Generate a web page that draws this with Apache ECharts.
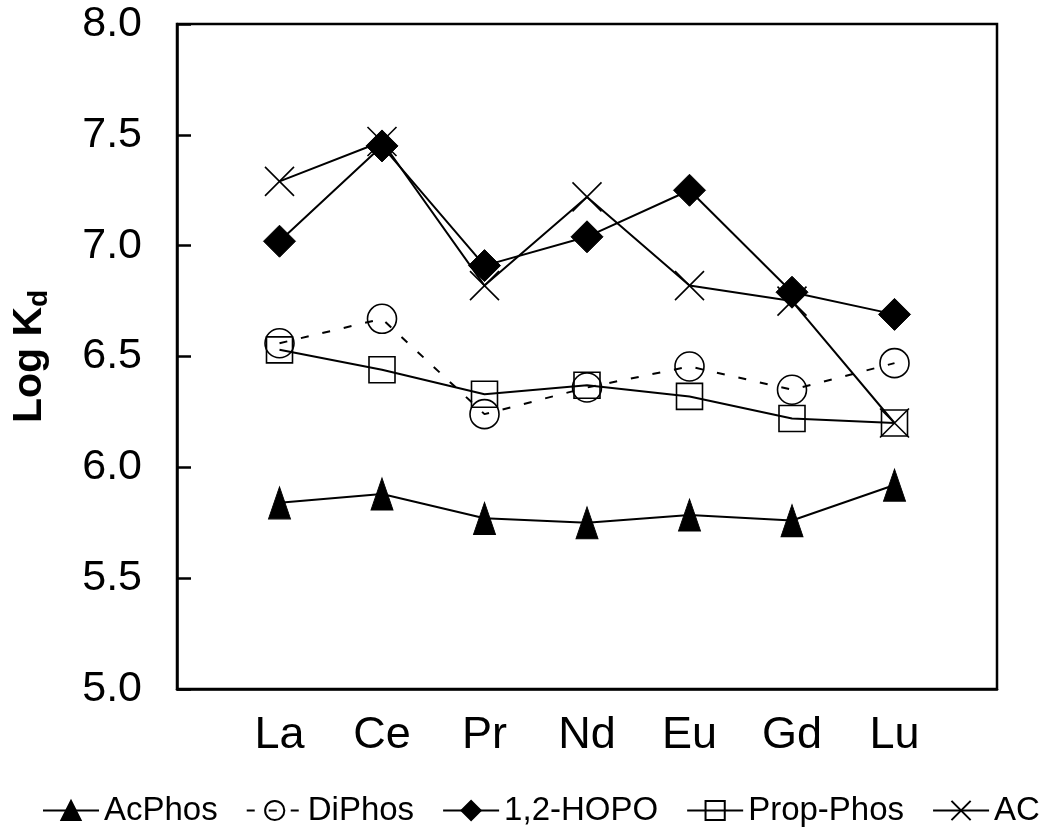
<!DOCTYPE html>
<html>
<head>
<meta charset="utf-8">
<script src="https://cdn.jsdelivr.net/npm/echarts@6/dist/echarts.min.js"></script>
<style>
  html, body { margin: 0; padding: 0; background: #fff; }
  #chart { width: 1050px; height: 834px; }
</style>
</head>
<body>
<div id="chart"></div>
<script>
// lanthanide elements on the x axis
const elements = ['La', 'Ce', 'Pr', 'Nd', 'Eu', 'Gd', 'Lu'];

// Log Kd values per ligand
const acPhos = [5.84, 5.88, 5.77, 5.75, 5.785, 5.76, 5.92];
const diPhos = [6.56, 6.67, 6.24, 6.36, 6.455, 6.35, 6.47];
const hopo = [7.02, 7.45, 6.91, 7.04, 7.25, 6.79, 6.69];
const propPhos = [6.53, 6.44, 6.33, 6.37, 6.32, 6.22, 6.20];
const ac = [7.29, 7.47, 6.82, 7.22, 6.82, 6.75, 6.20];

const FONT = "'Liberation Sans', Arial, sans-serif";

// empty slot at each end so the points sit one step in from the frame
const pad = arr => [null, ...arr, null];

const chart = echarts.init(document.getElementById('chart'));

const baseSeries = (name, data, symbol, size, filled, dashed) => ({
  name,
  type: 'line',
  data: pad(data),
  symbol,
  symbolSize: size,
  showAllSymbol: true,
  color: '#000',
  lineStyle: { color: '#000', width: 2, type: dashed ? [8, 14] : 'solid' },
  itemStyle: filled
    ? { color: '#000', borderColor: '#000', borderWidth: 1 }
    : { color: 'rgba(255,255,255,0)', borderColor: '#000', borderWidth: 1.6 },
  emphasis: { disabled: true }
});

chart.setOption({
  animation: false,
  backgroundColor: '#fff',
  grid: {
    left: 177,
    right: 53,
    top: 24,
    bottom: 145,
    show: true,
    borderColor: '#000',
    borderWidth: 2.5
  },
  legend: {
    left: 37,
    top: 789,
    itemWidth: 56,
    itemHeight: 24,
    itemGap: 28,
    textStyle: { fontFamily: FONT, fontSize: 33, color: '#000' },
    data: ['AcPhos', 'DiPhos', '1,2-HOPO', 'Prop-Phos', 'AC']
  },
  xAxis: {
    type: 'category',
    data: ['', ...elements, ''],
    boundaryGap: false,
    axisLine: { lineStyle: { color: '#000', width: 2.5 } },
    axisTick: { show: false },
    axisLabel: { fontFamily: FONT, fontSize: 45, color: '#000', margin: 24 },
    splitLine: { show: false }
  },
  yAxis: {
    type: 'value',
    min: 5,
    max: 8,
    interval: 0.5,
    name: '{a|Log K}{b|d}',
    nameLocation: 'middle',
    nameRotate: 90,
    nameGap: 124,
    nameTextStyle: {
      rich: {
        a: { fontFamily: FONT, fontSize: 41, fontWeight: 'bold', color: '#000', lineHeight: 46 },
        b: { fontFamily: FONT, fontSize: 28, fontWeight: 'bold', color: '#000', lineHeight: 46, verticalAlign: 'bottom' }
      }
    },
    axisLine: { show: true, lineStyle: { color: '#000', width: 2.5 } },
    axisTick: { show: true, inside: true, length: 14, lineStyle: { color: '#000', width: 2.5 } },
    axisLabel: {
      fontFamily: FONT,
      fontSize: 43,
      color: '#000',
      margin: 35,
      formatter: v => v.toFixed(1)
    },
    splitLine: { show: false }
  },
  series: [
    baseSeries('AcPhos', acPhos, 'triangle', [22, 32], true, false),
    baseSeries('DiPhos', diPhos, 'circle', 29, false, true),
    baseSeries('1,2-HOPO', hopo, 'diamond', 32, true, false),
    baseSeries('Prop-Phos', propPhos, 'rect', 26, false, false),
    baseSeries('AC', ac, 'path://M0,0L20,20M20,0L0,20', 29, false, false)
  ]
});
</script>
</body>
</html>
